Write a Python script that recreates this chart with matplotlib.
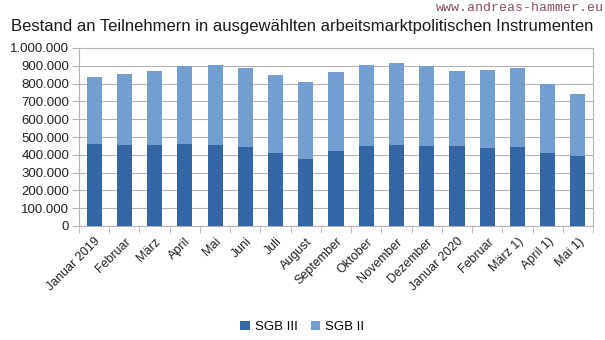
import matplotlib.pyplot as plt
import numpy as np

plt.rcParams['font.family'] = ['Liberation Sans', 'DejaVu Sans']

monate = ['Januar 2019', 'Februar', 'März', 'April', 'Mai', 'Juni', 'Juli',
          'August', 'September', 'Oktober', 'November', 'Dezember',
          'Januar 2020', 'Februar', 'März 1)', 'April 1)', 'Mai 1)']
sgb3 = [461000, 456000, 456000, 461000, 456000, 446000, 411000, 377000, 422000,
        450000, 456000, 450000, 450000, 439000, 444000, 411000, 394000]
gesamt = [838000, 855000, 872000, 897000, 902000, 889000, 850000, 810000, 867000,
          906000, 917000, 900000, 872000, 878000, 889000, 799000, 743000]
sgb2 = [g - s for g, s in zip(gesamt, sgb3)]

c_dark = '#3465a4'
c_light = '#729fcf'

fig = plt.figure(figsize=(6.05, 3.4), dpi=100)
ax = fig.add_axes([79/605, 1 - 226/340, (593-79)/605, (226-48)/340])

x = np.arange(len(monate))
ax.bar(x, sgb3, width=0.5, color=c_dark, label='SGB III', zorder=3)
ax.bar(x, sgb2, width=0.5, bottom=sgb3, color=c_light, label='SGB II', zorder=3)

ax.set_xlim(-0.5, len(monate) - 0.5)
ax.set_ylim(0, 1000000)
ax.set_yticks(np.arange(0, 1000001, 100000))
ax.set_yticklabels([f'{v:,}'.replace(',', '.') for v in range(0, 1000001, 100000)],
                   fontsize=9.5, color='#222222')
ax.yaxis.grid(True, color='#b3b3b3', linewidth=0.8, zorder=0)

ax.set_xticks(x)
ax.set_xticklabels(monate, rotation=45, ha='right', rotation_mode='anchor',
                   fontsize=9, color='#222222')
ax.tick_params(axis='x', length=0, pad=7)
ax.set_xticks(np.arange(-0.5, len(monate)), minor=True)
ax.tick_params(axis='x', which='minor', length=5, color='#b3b3b3')
ax.tick_params(axis='y', length=5, color='#b3b3b3', pad=2)

for s in ax.spines.values():
    s.set_color('#b3b3b3')
    s.set_linewidth(0.8)

fig.text(0.5, 1 - 27/340, 'Bestand an Teilnehmern in ausgewählten arbeitsmarktpolitischen Instrumenten',
         ha='center', va='center', fontsize=12, color='#1a1a1a')
fig.text(604/605, 1 - 8/340, 'www.andreas-hammer.eu', ha='right', va='center',
         fontsize=9.5, family='Liberation Mono', color='#8a4c5c')

fig.legend(loc='center', bbox_to_anchor=(0.5, 1 - 327/340), ncol=2, frameon=False,
           fontsize=9.5, handlelength=0.7, handleheight=0.7, handletextpad=0.4,
           columnspacing=1.0)

fig.savefig('out.png', dpi=100)
